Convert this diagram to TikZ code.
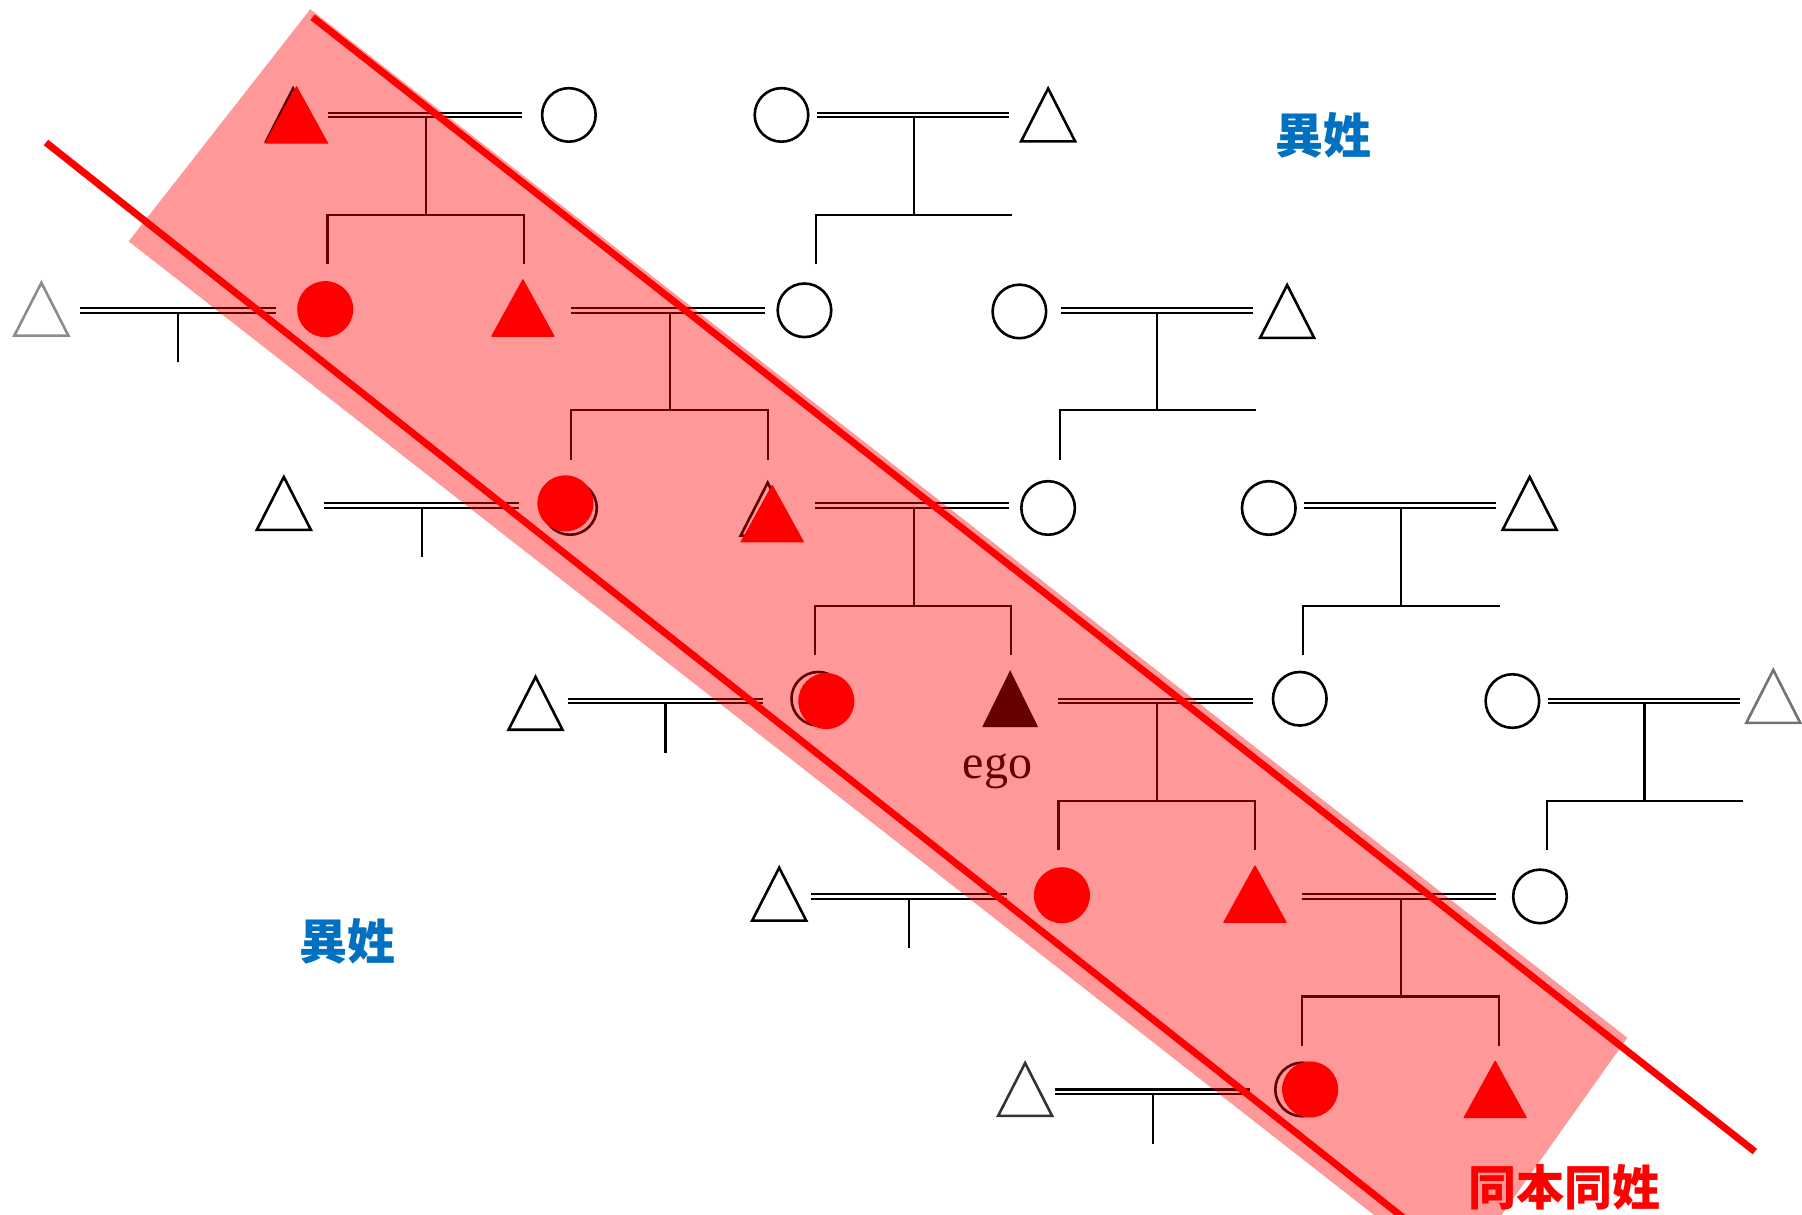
\documentclass[tikz,border=0pt]{standalone}
\usepackage{fontspec}
\newfontfamily\cjk{Noto Sans CJK JP}
\newfontfamily\egofont{Liberation Serif}
\definecolor{hblue}{HTML}{0070C0}
\definecolor{hred}{HTML}{FF0000}
\tikzset{
  kin/.style={line width=2.2pt, black, line join=miter},
  marriage/.style={line width=2.1pt, draw=black, double=white, double distance=2.5pt},
  outl/.style={line width=2.6pt, draw=black, line join=miter},
  redfill/.style={fill=hred, draw=hred, line width=1.2pt, line join=round},
  bandfill/.style={fill=hred, fill opacity=0.4},
  redline/.style={draw=hred, line width=7pt},
  cjklab/.style={font=\cjk\bfseries\fontsize{48}{50}\selectfont, inner sep=0pt},
  egolab/.style={font=\egofont\fontsize{48}{50}\selectfont, inner sep=0pt},
}
\newcommand\womanO[1]{\draw[outl] (#1) circle[radius=23.3];}
\newcommand\manO[2][black]{\draw[outl,draw=#1,shift={(#2)}] (-23.5,23) -- (0,-23) -- (23.5,23) -- cycle;}
\newcommand\womanR[1]{\fill[hred] (#1) circle[radius=24.4];}
\newcommand\manR[1]{\filldraw[redfill,shift={(#1)}] (-27,24.5) -- (0,-24.5) -- (27,24.5) -- cycle;}
\begin{document}
\begin{tikzpicture}[x=1.149235pt, y=-1.149235pt]
\useasboundingbox (0,0) rectangle (1568,1057.2);
\clip (0,0) rectangle (1568,1057.2);
\fill[white] (0,0) rectangle (1568,1057.2);

% ---------- persons (positions) ----------
\coordinate (T0) at (258,100);  \coordinate (T0o) at (255,100);
\coordinate (W0) at (495,100);
\coordinate (V0) at (680,100);
\coordinate (M0) at (912,100);
\coordinate (L1) at (36,269);
\coordinate (C1) at (283,269);
\coordinate (T1) at (455,268);
\coordinate (W1) at (700,270);
\coordinate (V1) at (887,271);
\coordinate (M1) at (1120,271);
\coordinate (L2) at (247,438);
\coordinate (C2) at (492,438);  \coordinate (C2o) at (496,442);
\coordinate (T2) at (672,447);  \coordinate (T2o) at (668,443);
\coordinate (W2) at (912,442);
\coordinate (V2) at (1104,442);
\coordinate (M2) at (1331,438);
\coordinate (L3) at (466,612);
\coordinate (C3) at (719,610);  \coordinate (C3o) at (712,608);
\coordinate (E)  at (879,608);
\coordinate (W3) at (1131,608);
\coordinate (V3) at (1316,610);
\coordinate (M3) at (1543,606);
\coordinate (L4) at (678,778);
\coordinate (C4) at (924,779);
\coordinate (T4) at (1092,778);
\coordinate (W4) at (1340,780);
\coordinate (L5) at (892,948);
\coordinate (C5) at (1140,948); \coordinate (C5o) at (1133,948);
\coordinate (T5) at (1301,948);

% ---------- left marriages with stub ----------
\foreach \r in {1,...,5}{
  \pgfmathsetmacro\X{212*\r-212}
  \pgfmathsetmacro\Y{100+170*\r}
  \coordinate (la\r) at (70+\X,\Y);
  \coordinate (lb\r) at (240+\X,\Y);
  \coordinate (ls\r) at (155+\X,\Y+2);
  \coordinate (lt\r) at (155+\X,\Y+45);
  \draw[marriage] (la\r) -- (lb\r);
  \draw[kin] (ls\r) -- (lt\r);
}
% ---------- central families ----------
\foreach \r in {0,...,4}{
  \pgfmathsetmacro\X{212*\r-212}
  \pgfmathsetmacro\Y{100+170*\r}
  \coordinate (ca\r) at (497+\X,\Y);
  \coordinate (cb\r) at (666+\X,\Y);
  \coordinate (cm\r) at (583+\X,\Y+2);
  \coordinate (cj\r) at (583+\X,\Y+87);
  \coordinate (cl\r) at (497+\X,\Y+87);
  \coordinate (cr\r) at (668+\X,\Y+87);
  \coordinate (cld\r) at (497+\X,\Y+130);
  \coordinate (crd\r) at (668+\X,\Y+130);
  \draw[marriage] (ca\r) -- (cb\r);
  \draw[kin] (cm\r) -- (cj\r);
  \draw[kin] (cld\r) -- (cl\r) -- (cr\r) -- (crd\r);
}
% ---------- right families ----------
\foreach \r in {0,...,3}{
  \pgfmathsetmacro\X{212*\r-212}
  \pgfmathsetmacro\Y{100+170*\r}
  \coordinate (ra\r) at (923+\X,\Y);
  \coordinate (rb\r) at (1090+\X,\Y);
  \coordinate (rm\r) at (1007+\X,\Y+2);
  \coordinate (rj\r) at (1007+\X,\Y+87);
  \coordinate (rl\r) at (922+\X,\Y+87);
  \coordinate (rr\r) at (1093+\X,\Y+87);
  \coordinate (rld\r) at (922+\X,\Y+130);
  \draw[marriage] (ra\r) -- (rb\r);
  \draw[kin] (rm\r) -- (rj\r);
  \draw[kin] (rld\r) -- (rl\r) -- (rr\r);
}

% ---------- outlined persons ----------
\foreach \w in {W0,V0,W1,V1,W2,V2,W3,V3,W4,C2o,C3o,C5o}{\womanO{\w}}
\foreach \m in {M0,M1,L2,M2,L3,L4,T0o,T2o}{\manO{\m}}
\manO[black!45]{L1}
\manO[black!55]{M3}
\manO[black!80]{L5}
\fill[black,shift={(E)}] (-24.4,24.8) -- (0,-24.8) -- (24.4,24.8) -- cycle;
\node[egolab] (egolabel) at (868,671) {ego};

% ---------- red persons ----------
\foreach \w in {C1,C2,C3,C4,C5}{\womanR{\w}}
\foreach \m in {T0,T1,T2,T4,T5}{\manR{\m}}

% ---------- band ----------
\coordinate (P1) at (270,8);
\coordinate (P2) at (1416,903);
\coordinate (P3) at (1267,1113);
\coordinate (P4) at (112,210);
\fill[bandfill] (P1) -- (P2) -- (P3) -- (P4) -- cycle;

% ---------- red lines ----------
\coordinate (A1) at (272,15);
\coordinate (A2) at (1527,1002);
\coordinate (B1) at (40,124);
\coordinate (B2) at (1262,1092);
\draw[redline] (A1) -- (A2);
\draw[redline] (B1) -- (B2);

% ---------- labels ----------
\node[cjklab, text=hblue] (ys1) at (1152,118) {異姓};
\node[cjklab, text=hblue] (ys2) at (302,819) {異姓};
\node[cjklab, text=hred] (ss) at (1361,1033) {同本同姓};
\end{tikzpicture}
\end{document}
